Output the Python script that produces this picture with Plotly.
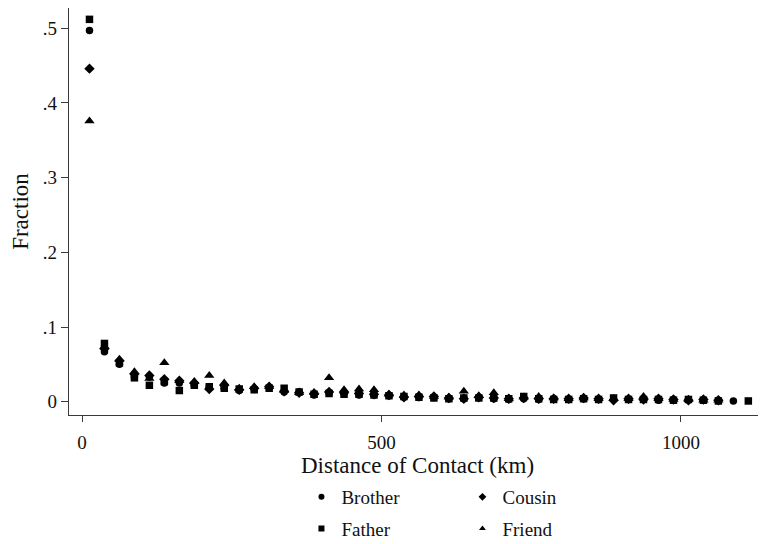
import plotly.graph_objects as go

distance_km = [12.5, 37.5, 62.5, 87.5, 112.5, 137.5, 162.5, 187.5, 212.5, 237.5,
               262.5, 287.5, 312.5, 337.5, 362.5, 387.5, 412.5, 437.5, 462.5, 487.5,
               512.5, 537.5, 562.5, 587.5, 612.5, 637.5, 662.5, 687.5, 712.5, 737.5,
               762.5, 787.5, 812.5, 837.5, 862.5, 887.5, 912.5, 937.5, 962.5, 987.5,
               1012.5, 1037.5, 1062.5, 1087.5, 1112.5, 1137.5]

brother = [.497, .067, .050, .033, .033, .025, .025, .022, .020, .018,
           .015, .017, .019, .013, .013, .009, .012, .011, .009, .009,
           .008, .006, .007, .006, .004, .004, .006, .004, .003, .004,
           .003, .004, .003, .004, .003, .003, .003, .003, .002, .003,
           .003, .002, .002, .001, None, None]

father = [.512, .078, .052, .032, .022, .027, .015, .022, .020, .018,
          .017, .016, .018, .018, .013, .010, .011, .010, .010, .009,
          .008, .007, .006, .005, .004, .005, .005, .005, .004, .007,
          .004, .003, .003, .004, .003, .005, .003, .003, .003, .002,
          .003, .002, .001, None, .001, None]

cousin = [.446, .071, .055, .037, .035, .030, .028, .025, .017, .022,
          .016, .018, .020, .014, .012, .011, .013, .012, .011, .010,
          .009, .006, .007, .007, .005, .004, .006, .005, .004, .005,
          .004, .004, .004, .005, .004, .002, .004, .003, .004, .003,
          .002, .003, .002, None, None, .001]

friend = [.376, .074, .057, .040, .031, .052, .028, .027, .035, .025,
          .018, .020, .020, .015, .012, .012, .032, .016, .017, .016,
          .010, .009, .009, .007, .006, .014, .008, .012, .004, .006,
          .007, .005, .004, .005, .004, .004, .004, .007, .004, .003,
          .003, .002, .002, None, None, None]

y_ticks = [0, 0.1, 0.2, 0.3, 0.4, 0.5]
y_tick_labels = ["0", ".1", ".2", ".3", ".4", ".5"]
x_ticks = [0, 500, 1000]
x_tick_labels = ["0", "500", "1000"]

FONT = "Liberation Serif"
INK = "#111111"
AXIS = "#3a3a3a"

series = [
    ("Brother", brother, "circle", 7.5, "legend"),
    ("Cousin", cousin, "diamond", 8, "legend2"),
    ("Father", father, "square", 7.5, "legend"),
    ("Friend", friend, "triangle-up", 9, "legend2"),
]

fig = go.Figure()
# draw order: friend at back, father on top
for name, vals, sym, size, lg in [series[3], series[1], series[0], series[2]]:
    fig.add_trace(go.Scatter(
        x=distance_km, y=vals, mode="markers", name=name, showlegend=False,
        cliponaxis=False,
        marker=dict(symbol=sym, size=size, color="black", line=dict(width=0)),
    ))
# legend entries
for name, vals, sym, size, lg in series:
    fig.add_trace(go.Scatter(
        x=[None], y=[None], mode="markers", name=name, legend=lg,
        legendgroup=name,
        marker=dict(symbol=sym, size=6, color="black", line=dict(width=0)),
    ))

# the page adds an 8px body margin
fig.update_layout(
    width=758, height=536,
    margin=dict(l=61, r=0, t=0, b=129, pad=0),
    paper_bgcolor="white", plot_bgcolor="white",
    font=dict(family=FONT, size=19, color=INK),
    xaxis=dict(
        range=[-21.7, 1142], showgrid=False, zeroline=False, automargin=False,
        showline=True, linecolor=AXIS, linewidth=1.3,
        ticks="outside", ticklen=6, tickwidth=1.3, tickcolor=AXIS,
        ticklabelstandoff=4,
        tickvals=x_ticks, ticktext=x_tick_labels,
        title=dict(text="Distance of Contact (km)", standoff=0),
    ),
    yaxis=dict(
        range=[-0.0178, 0.5272], showgrid=False, zeroline=False, automargin=False,
        showline=True, linecolor=AXIS, linewidth=1.3,
        ticks="outside", ticklen=7, tickwidth=1.3, tickcolor=AXIS,
        tickvals=y_ticks, ticktext=y_tick_labels,
        title=dict(text="Fraction", standoff=12),
    ),
    legend=dict(x=0.3335, y=0.1232, xanchor="left", yanchor="top",
                yref="container",
                orientation="v", bgcolor="rgba(0,0,0,0)",
                font=dict(size=19), tracegroupgap=4, traceorder="grouped"),
    legend2=dict(x=0.5645, y=0.1232, xanchor="left", yanchor="top",
                 yref="container",
                 orientation="v", bgcolor="rgba(0,0,0,0)",
                 font=dict(size=19), tracegroupgap=4, traceorder="grouped"),
)

fig.write_html("out.html")
